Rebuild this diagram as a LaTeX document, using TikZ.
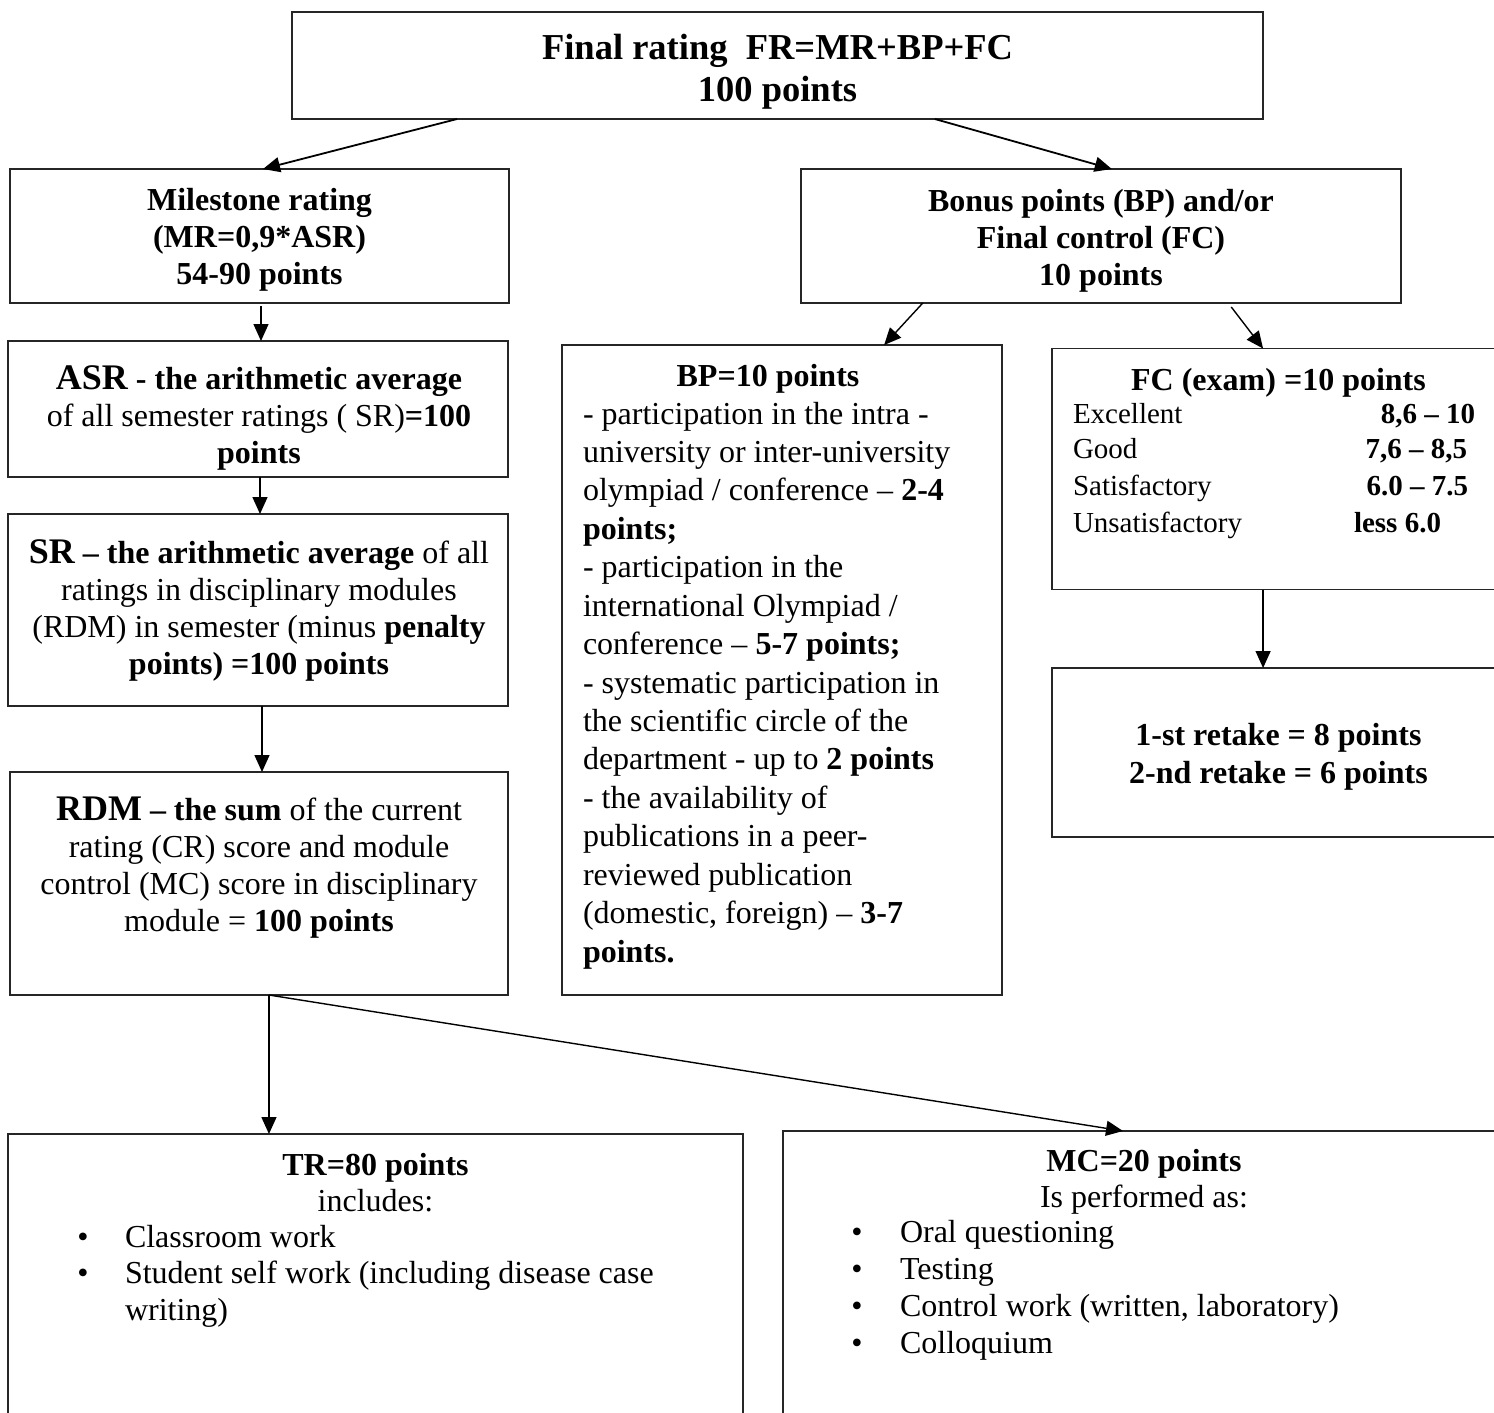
\documentclass[tikz,border=0pt]{standalone}
\usepackage{fontspec}
\setmainfont{Liberation Serif}
\usetikzlibrary{arrows.meta,calc}
\newcommand\myN{\fontsize{32}{37}\selectfont}
\newcommand\myT{\fontsize{36.5}{42}\selectfont}
\newcommand\myB{\fontsize{36}{37}\selectfont}
\newcommand\myS{\fontsize{29}{36}\selectfont}
\newcommand\mystrut{\rule{0pt}{30pt}}
\begin{document}
\begin{tikzpicture}[x=1pt,y=-1pt,
  box/.style={draw=black!85, line width=1.4pt, inner sep=0pt, outer sep=0pt},
  arr/.style={line width=1.4pt, -{Triangle[length=17pt,width=15pt]}},
  txt/.style={inner sep=0pt, outer sep=0pt, font=\myN}]
\useasboundingbox (0,0) rectangle (1494,1413);
\fill[white] (0,0) rectangle (1494,1413);
\clip (0,0) rectangle (1494,1413);
% boxes
\node[box, minimum width=971pt, minimum height=107pt] (fr) at (777.5,65.5) {};
\node[box, minimum width=499pt, minimum height=134pt] (mr) at (259.5,236) {};
\node[box, minimum width=600pt, minimum height=134pt] (bonus) at (1101,236) {};
\node[box, minimum width=500pt, minimum height=136pt] (asr) at (258,409) {};
\node[box, minimum width=500pt, minimum height=192pt] (sr) at (258,610) {};
\node[box, minimum width=498pt, minimum height=223pt] (rdm) at (259,883.5) {};
\node[box, minimum width=440pt, minimum height=650pt] (bp) at (782,670) {};
\node[box, minimum width=468pt, minimum height=241pt] (fc) at (1286,469) {};
\node[box, minimum width=468pt, minimum height=169pt] (retake) at (1286,752.5) {};
\node[box, minimum width=735pt, minimum height=316pt] (tr) at (375.5,1292) {};
\node[box, minimum width=722pt, minimum height=319pt] (mc) at (1144,1290.5) {};
% texts
\node[txt, font=\myT\bfseries, align=center, anchor=north] (frt) at (777.5,29.5)
  {\mystrut Final rating\ \ FR=MR+BP+FC\\100 points};
\node[txt, font=\myN\bfseries, align=center, anchor=north] (mrt) at (259.5,180)
  {\mystrut Milestone rating\\(MR=0,9*ASR)\\54-90 points};
\node[txt, font=\myN\bfseries, align=center, anchor=north] (bonust) at (1101,181)
  {\mystrut Bonus points (BP) and/or\\Final control (FC)\\10 points};
\node[txt, align=center, anchor=north] (asrt) at (259,359)
  {\mystrut\textbf{{\myB ASR} - the arithmetic average}\\of all semester ratings ( SR)\textbf{=100}\\\textbf{points}};
\node[txt, align=center, anchor=north] (srt) at (259,533)
  {\mystrut\textbf{{\myB SR} – the arithmetic average} of all\\ratings in disciplinary modules\\(RDM) in semester (minus \textbf{penalty}\\\textbf{points) =100 points}};
\node[txt, align=center, anchor=north] (rdmt) at (259,790)
  {\mystrut\textbf{{\myB RDM} – the sum} of the current\\rating (CR) score and module\\control (MC) score in disciplinary\\module = \textbf{100 points}};
% BP
\node[txt, font=\myN\bfseries, anchor=base] (bpt) at (768,386) {BP=10 points};
\node[txt, font={\fontsize{32}{38.43}\selectfont}, align=left, anchor=north west] (bpb) at (583,394)
  {\mystrut - participation in the intra -\\university or inter-university\\olympiad / conference – \textbf{2-4}\\\textbf{points;}\\- participation in the\\international Olympiad /\\conference – \textbf{5-7 points;}\\- systematic participation in\\the scientific circle of the\\department - up to \textbf{2 points}\\- the availability of\\publications in a peer-\\reviewed publication\\(domestic, foreign) – \textbf{3-7}\\\textbf{points.}};
% FC
\node[txt, font=\myN\bfseries, anchor=base] (fct) at (1278.5,390) {FC (exam) =10 points};
\node[txt, font=\myS, anchor=base west] (fc1) at (1073,423) {Excellent};
\node[txt, font=\myS, anchor=base west] (fc2) at (1073,458) {Good};
\node[txt, font=\myS, anchor=base west] (fc3) at (1073,495) {Satisfactory};
\node[txt, font=\myS, anchor=base west] (fc4) at (1073,532) {Unsatisfactory};
\node[txt, font=\myS\bfseries, anchor=base east] (fv1) at (1475,423) {8,6 – 10};
\node[txt, font=\myS\bfseries, anchor=base east] (fv2) at (1467,458) {7,6 – 8,5};
\node[txt, font=\myS\bfseries, anchor=base east] (fv3) at (1468,495) {6.0 – 7.5};
\node[txt, font=\myS\bfseries, anchor=base east] (fv4) at (1441,532) {less 6.0};
% retake
\node[txt, font={\fontsize{32}{38}\selectfont\bfseries}, align=center, anchor=north] (rt) at (1278.5,715)
  {\mystrut 1-st retake = 8 points\\2-nd retake = 6 points};
% TR
\node[txt, font={\fontsize{32}{36}\selectfont}, align=center, anchor=north] (trt) at (375.5,1145)
  {\mystrut\textbf{TR=80 points}\\includes:};
\node[txt, font={\fontsize{32}{36.5}\selectfont}, align=left, anchor=north west] (tri) at (125,1217)
  {\mystrut Classroom work\\Student self work (including disease case\\writing)};
\node[txt, anchor=base] (trb1) at (83,1247) {•};
\node[txt, anchor=base] (trb2) at (83,1283.5) {•};
% MC
\node[txt, font={\fontsize{32}{36}\selectfont}, align=center, anchor=north] (mct) at (1144,1141)
  {\mystrut\textbf{MC=20 points}\\Is performed as:};
\node[txt, font={\fontsize{32}{37}\selectfont}, align=left, anchor=north west] (mci) at (900,1212)
  {\mystrut Oral questioning\\Testing\\Control work (written, laboratory)\\Colloquium};
\node[txt, anchor=base] (mcb1) at (857,1242) {•};
\node[txt, anchor=base] (mcb2) at (857,1279) {•};
\node[txt, anchor=base] (mcb3) at (857,1316) {•};
\node[txt, anchor=base] (mcb4) at (857,1353) {•};
% connectors
\draw[arr, line width=1.8pt] ($(fr.south west)!0.170!(fr.south east)$) -- ($(mr.north west)!0.507!(mr.north east)$);
\draw[arr, line width=1.8pt] ($(fr.south west)!0.662!(fr.south east)$) -- ($(bonus.north west)!0.518!(bonus.north east)$);
\coordinate (m1) at ($(mr.south west)!0.503!(mr.south east)$);
\draw[arr, shorten <=3pt] (m1) -- (m1 |- asr.north);
\coordinate (a1) at ($(asr.south west)!0.504!(asr.south east)$);
\draw[arr] (a1) -- (a1 |- sr.north);
\coordinate (s1) at ($(sr.south west)!0.508!(sr.south east)$);
\draw[arr] (s1) -- (s1 |- rdm.north);
\draw[arr] ($(bonus.south west)!0.203!(bonus.south east)$) -- ($(bp.north west)!0.732!(bp.north east)$);
\coordinate (f1) at ($(fc.north west)!0.451!(fc.north east)$);
\draw[arr, shorten <=5pt] ($(bonus.south west)!0.712!(bonus.south east)$) -- (f1);
\draw[arr] (f1 |- fc.south) -- (f1 |- retake.north);
\coordinate (r1) at ($(rdm.south west)!0.520!(rdm.south east)$);
\draw[arr] (r1) -- (r1 |- tr.north);
\draw[arr] (r1) -- ($(mc.north west)!0.471!(mc.north east)$);
\end{tikzpicture}
\end{document}
